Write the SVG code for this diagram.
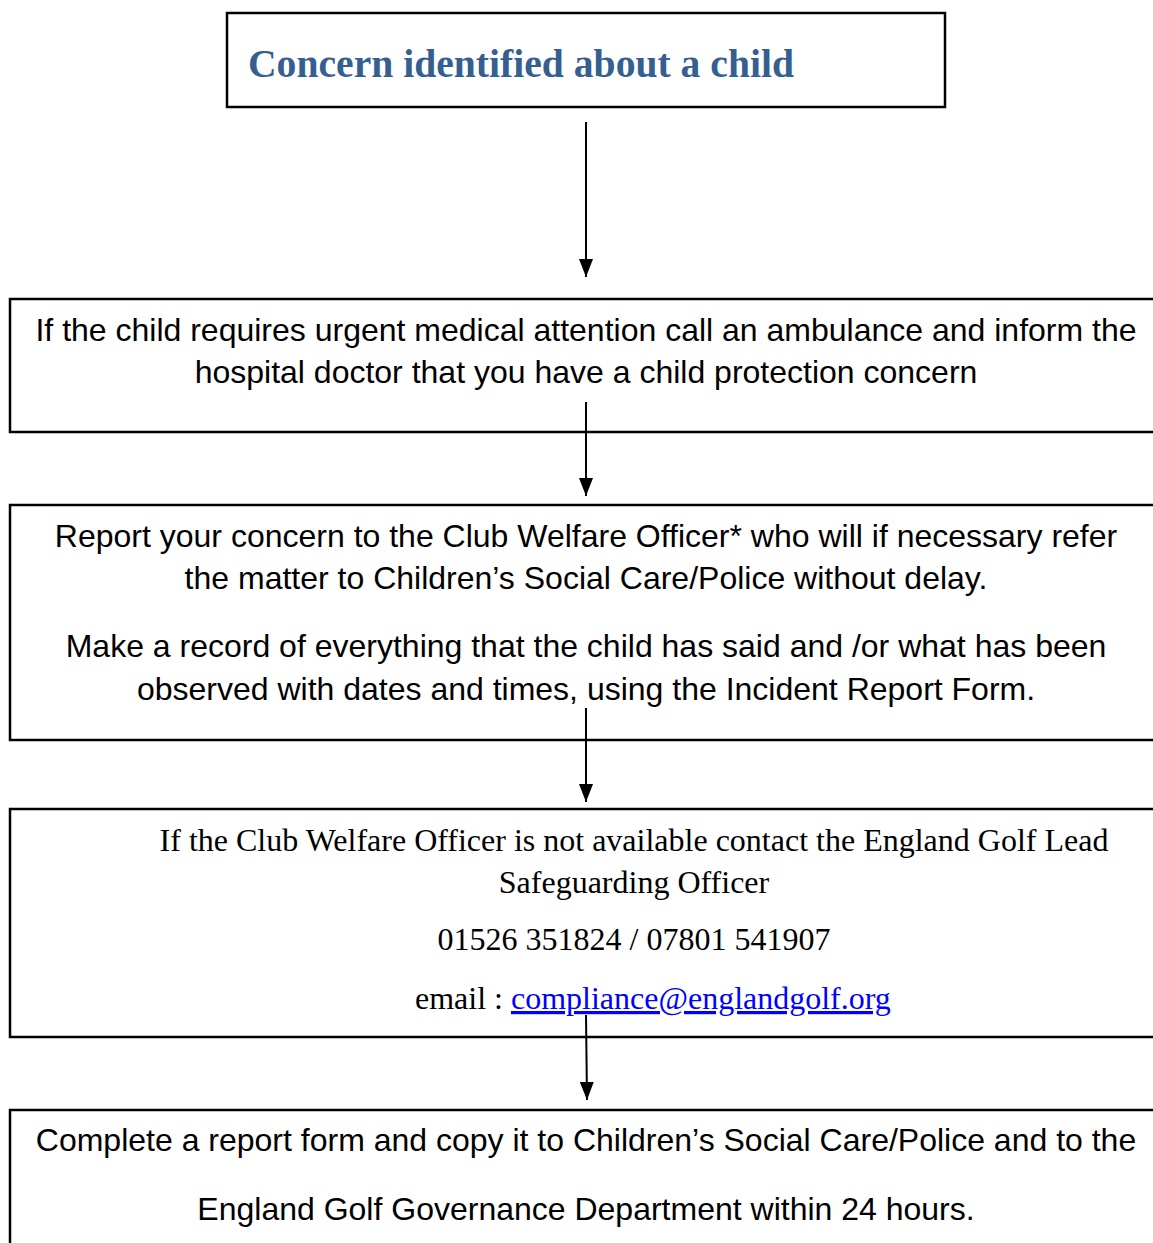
<svg xmlns="http://www.w3.org/2000/svg" width="1153" height="1243" viewBox="0 0 1153 1243">
<style>
.box{fill:#fff;stroke:#000;stroke-width:2.5}
.sans{font-family:"Liberation Sans",Arial,sans-serif;font-size:32px;fill:#000;text-anchor:middle}
.serif{font-family:"Liberation Serif","Times New Roman",serif;font-size:32px;fill:#000;text-anchor:middle}
.title{font-family:"Liberation Serif",serif;font-weight:bold;font-size:40px;fill:#365F91}
.conn{stroke:#000;stroke-width:2;fill:none}
</style>
<defs>
<marker id="arr" viewBox="0 0 18 14" refX="18" refY="7" markerWidth="18" markerHeight="14" markerUnits="userSpaceOnUse" orient="auto">
<path d="M0,0 L18,7 L0,14 z" fill="#000"/>
</marker>
</defs>
<rect width="1153" height="1243" fill="#fff"/>
<g id="n1">
<rect class="box" x="227" y="13" width="718" height="94"/>
<text class="title" x="248" y="77" textLength="546" lengthAdjust="spacingAndGlyphs">Concern identified about a child</text>
</g>
<g id="n2">
<rect class="box" x="10" y="299" width="1160" height="133"/>
<text class="sans" x="586" y="341">If the child requires urgent medical attention call an ambulance and inform the</text>
<text class="sans" x="586" y="383">hospital doctor that you have a child protection concern</text>
</g>
<g id="n3">
<rect class="box" x="10" y="505" width="1160" height="235"/>
<text class="sans" x="586" y="547">Report your concern to the Club Welfare Officer* who will if necessary refer</text>
<text class="sans" x="586" y="589">the matter to Children’s Social Care/Police without delay.</text>
<text class="sans" x="586" y="657">Make a record of everything that the child has said and /or what has been</text>
<text class="sans" x="586" y="700">observed with dates and times, using the Incident Report Form.</text>
</g>
<g id="n4">
<rect class="box" x="10" y="809" width="1160" height="228"/>
<text class="serif" x="634" y="851">If the Club Welfare Officer is not available contact the England Golf Lead</text>
<text class="serif" x="634" y="893">Safeguarding Officer</text>
<text class="serif" x="634" y="950">01526 351824 / 07801 541907</text>
<text class="serif" x="415" y="1009" style="text-anchor:start">email : <tspan fill="#0000FF" text-decoration="underline">compliance@englandgolf.org</tspan></text>
</g>
<g id="n5">
<rect class="box" x="10" y="1110" width="1160" height="150"/>
<text class="sans" x="586" y="1151">Complete a report form and copy it to Children’s Social Care/Police and to the</text>
<text class="sans" x="586" y="1220">England Golf Governance Department within 24 hours.</text>
</g>
<g id="connectors">
<line class="conn" x1="586" y1="122" x2="586" y2="277" marker-end="url(#arr)"/>
<line class="conn" x1="586" y1="402" x2="586" y2="496" marker-end="url(#arr)"/>
<line class="conn" x1="586" y1="708" x2="586" y2="802" marker-end="url(#arr)"/>
<line class="conn" x1="586" y1="1015" x2="587" y2="1100" marker-end="url(#arr)"/>
</g>
</svg>
